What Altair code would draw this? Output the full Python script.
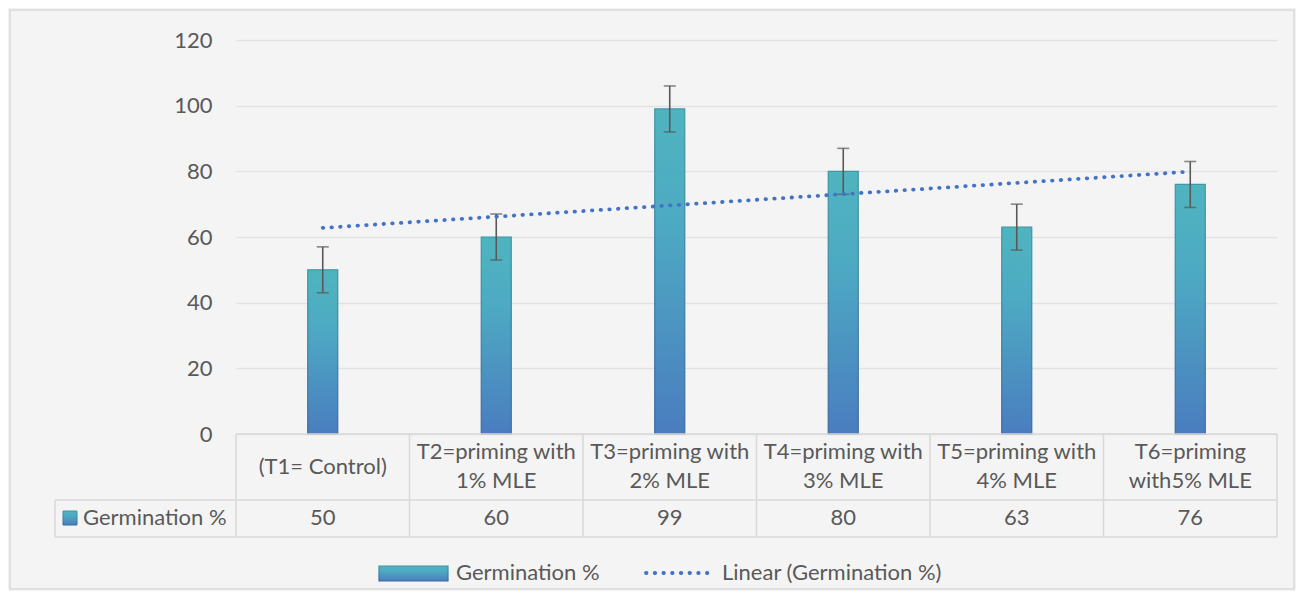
import textwrap
import numpy as np
import pandas as pd
import altair as alt

# ---- data ----
categories = [
    "(T1= Control)",
    "T2=priming with 1% MLE",
    "T3=priming with 2% MLE",
    "T4=priming with 3% MLE",
    "T5=priming with 4% MLE",
    "T6=priming with5% MLE",
]
germination = [50, 60, 99, 80, 63, 76]
error = [7, 7, 7, 7, 7, 7]
series_name = "Germination %"
trend_name = "Linear (Germination %)"
y_ticks = [0, 20, 40, 60, 80, 100, 120]

# linear trendline (least squares on treatment index)
idx = np.arange(1, len(germination) + 1)
slope, intercept = np.polyfit(idx, germination, 1)
trend = intercept + slope * idx

labels = ["\n".join(textwrap.wrap(c, width=16)) for c in categories]
df = pd.DataFrame({
    "cat": categories,
    "value": germination,
    "lo": [v - e for v, e in zip(germination, error)],
    "hi": [v + e for v, e in zip(germination, error)],
    "trend": trend,
    "label": labels,
    "nlines": [l.count("\n") + 1 for l in labels],
})

W, H = 1041, 394
STEP = W / len(categories)
FONT = "Lato"
FS = 22
TXT = "#595959"
GRID = "#d9d9d9"

bar_fill = alt.Gradient(
    gradient="linear", x1=0, x2=0, y1=0, y2=1,
    stops=[alt.GradientStop(color="#4fb4bf", offset=0),
           alt.GradientStop(color="#4daac3", offset=0.35),
           alt.GradientStop(color="#4a7dbf", offset=1)],
)
bar_stroke = alt.Gradient(
    gradient="linear", x1=0, x2=0, y1=0, y2=1,
    stops=[alt.GradientStop(color="#3e97a2", offset=0),
           alt.GradientStop(color="#3c68a3", offset=1)],
)

xenc = alt.X("cat:N", sort=categories, axis=None,
             scale=alt.Scale(paddingInner=0, paddingOuter=0))
yscale = alt.Scale(domain=[0, 120], nice=False)

base = alt.Chart(df)

border = alt.Chart(pd.DataFrame({"k": [0]})).mark_rect(
    fillOpacity=0, stroke="#d9d9d9", strokeWidth=1.5
).encode(x=alt.value(-226), x2=alt.value(1058), y=alt.value(-30), y2=alt.value(549))

bars = base.mark_bar(size=30, color=bar_fill, stroke=bar_stroke, strokeWidth=1.2).encode(
    x=xenc,
    y=alt.Y("value:Q", scale=yscale, title=None,
            axis=alt.Axis(values=y_ticks, domain=False, ticks=False, tickSize=0,
                          labelPadding=24, labelFont=FONT, labelFontSize=FS,
                          labelColor=TXT, gridColor="#e2e2e2", gridWidth=1.5)),
)

err = base.mark_rule(color="#595959", strokeWidth=1.6).encode(
    x=xenc, y=alt.Y("lo:Q", scale=yscale), y2="hi:Q")
cap_lo = base.mark_tick(color="#595959", size=12, thickness=1.6).encode(
    x=xenc, y=alt.Y("lo:Q", scale=yscale))
cap_hi = base.mark_tick(color="#595959", size=12, thickness=1.6).encode(
    x=xenc, y=alt.Y("hi:Q", scale=yscale))

trend_line = base.mark_line(color="#4472c4", strokeWidth=3.8, strokeCap="round",
                            strokeDash=[0.5, 8.2]).encode(
    x=xenc, y=alt.Y("trend:Q", scale=yscale))

# ---- data table ----
vlines = base.mark_rule(color=GRID, strokeWidth=1.5, xOffset=-STEP / 2).encode(
    x=xenc, y=alt.value(H), y2=alt.value(497))
last = pd.DataFrame({"cat": [categories[-1]]})
vline_end = alt.Chart(last).mark_rule(color=GRID, strokeWidth=1.5, xOffset=STEP / 2).encode(
    x=xenc, y=alt.value(H), y2=alt.value(497))
one = pd.DataFrame({"name": [series_name]})
vline_left = alt.Chart(one).mark_rule(color=GRID, strokeWidth=1.5).encode(
    x=alt.value(-181), y=alt.value(460), y2=alt.value(497))
h_top = alt.Chart(one).mark_rule(color=GRID, strokeWidth=1.5).encode(
    x=alt.value(0), x2=alt.value(W), y=alt.value(H))
h_mid = alt.Chart(one).mark_rule(color=GRID, strokeWidth=1.5).encode(
    x=alt.value(-181), x2=alt.value(W), y=alt.value(460))
h_bot = alt.Chart(one).mark_rule(color=GRID, strokeWidth=1.5).encode(
    x=alt.value(-181), x2=alt.value(W), y=alt.value(497))

head_one = base.transform_filter("datum.nlines == 1").mark_text(
    font=FONT, fontSize=FS, color=TXT, baseline="middle", align="center").encode(
    x=xenc, y=alt.value(427), text="label:N")
head_two = base.transform_filter("datum.nlines == 2").mark_text(
    font=FONT, fontSize=FS, color=TXT, lineBreak="\n", lineHeight=29,
    baseline="middle", align="center").encode(
    x=xenc, y=alt.value(412), text="label:N")
val_txt = base.mark_text(font=FONT, fontSize=FS, color=TXT, baseline="middle",
                         align="center").encode(
    x=xenc, y=alt.value(478), text="value:Q")

row_sym = alt.Chart(one).mark_rect(color=bar_fill, stroke=bar_stroke, strokeWidth=1).encode(
    x=alt.value(-173), x2=alt.value(-159), y=alt.value(471), y2=alt.value(485))
row_txt = alt.Chart(one).mark_text(font=FONT, fontSize=FS, color=TXT, align="left",
                                   baseline="middle").encode(
    x=alt.value(-153), y=alt.value(478), text="name:N")

# ---- legend ----
leg_sym = alt.Chart(one).mark_rect(color=bar_fill, stroke=bar_stroke, strokeWidth=1.2).encode(
    x=alt.value(143), x2=alt.value(212), y=alt.value(526), y2=alt.value(541))
leg_txt = alt.Chart(one).mark_text(font=FONT, fontSize=FS, color=TXT, align="left",
                                   baseline="middle").encode(
    x=alt.value(220), y=alt.value(533), text="name:N")
two = pd.DataFrame({"name": [trend_name]})
leg_line = alt.Chart(two).mark_rule(color="#4472c4", strokeWidth=3.8, strokeCap="round",
                                    strokeDash=[0.5, 8.2]).encode(
    x=alt.value(410), x2=alt.value(472), y=alt.value(533))
leg_txt2 = alt.Chart(two).mark_text(font=FONT, fontSize=FS, color=TXT, align="left",
                                    baseline="middle").encode(
    x=alt.value(486), y=alt.value(533), text="name:N")

chart = alt.layer(
    border, bars, err, cap_lo, cap_hi, trend_line,
    vlines, vline_end, vline_left, h_top, h_mid, h_bot,
    head_one, head_two, val_txt, row_sym, row_txt,
    leg_sym, leg_txt, leg_line, leg_txt2,
).properties(
    width=W, height=H, background="#f4f4f4",
    padding={"left": 1, "top": 1, "right": 1, "bottom": 1},
).configure_view(stroke=None)

chart.save("out.html", embed_options={"renderer": "svg", "actions": False})
